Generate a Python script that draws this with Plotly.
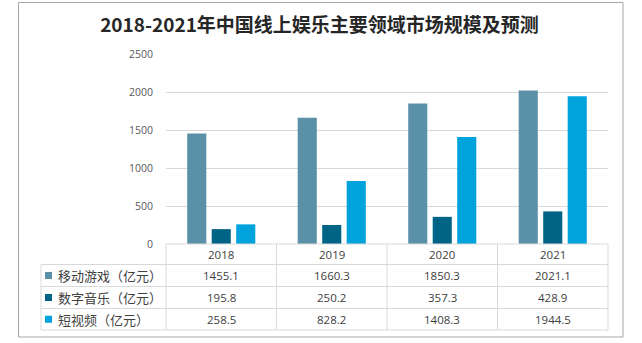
import plotly.graph_objects as go

title = "2018-2021年中国线上娱乐主要领域市场规模及预测"
categories = ["2018", "2019", "2020", "2021"]
series_names = ["移动游戏（亿元）", "数字音乐（亿元）", "短视频（亿元）"]
mobile_games = [1455.1, 1660.3, 1850.3, 2021.1]
digital_music = [195.8, 250.2, 357.3, 428.9]
short_video = [258.5, 828.2, 1408.3, 1944.5]
y_ticks = [0, 500, 1000, 1500, 2000, 2500]

series_values = [mobile_games, digital_music, short_video]
colors = ["#5b91a8", "#006487", "#00a3dc"]

W, H = 642, 343
L, R, T, B = 166, 608, 54, 244
PW, PH = R - L, B - T


def xp(px):
    return (px - L) / PW


def yp(py):
    return (B - py) / PH


fig = go.Figure()
for name, vals, col in zip(series_names, series_values, colors):
    fig.add_trace(go.Bar(x=categories, y=vals, name=name,
                         marker=dict(color=col, line=dict(width=0))))

base_font = "Open Sans, Noto Sans CJK SC, sans-serif"
fig.update_layout(
    width=W, height=H,
    margin=dict(l=L, r=W - R, t=T, b=H - B, pad=0),
    paper_bgcolor="white", plot_bgcolor="white",
    barmode="group", bargap=0.335, bargroupgap=0.22,
    showlegend=False,
    title=dict(text="<b>" + title + "</b>", x=319.5 / W, xref="container", xanchor="center",
               y=1 - 25 / H, yref="container", yanchor="middle",
               font=dict(family="Noto Sans CJK SC, sans-serif", size=19, color="#262626")),
    font=dict(family=base_font, color="#404040"),
)
fig.update_xaxes(showticklabels=False, showgrid=False, showline=False, zeroline=False, ticks="")
fig.update_yaxes(range=[0, 2500], tickvals=y_ticks, showgrid=True, gridcolor="#d9d9d9", gridwidth=1,
                 zeroline=False, showline=False, ticks="", ticklabelstandoff=12,
                 tickfont=dict(family=base_font, size=10.5, color="#595959"))

shapes = []
line_col = "#d9d9d9"
row_edges = [244, 264.5, 286.5, 308.5, 330]
n = len(categories)
col_edges_px = [L + PW * k / n for k in range(n + 1)]
label_left = 41

# horizontal table lines
for i, ry in enumerate(row_edges):
    x0 = L if i == 0 else label_left
    shapes.append(dict(type="line", xref="paper", yref="paper", x0=xp(x0), x1=xp(R),
                       y0=yp(ry), y1=yp(ry), line=dict(color=line_col, width=1)))
# vertical table lines
shapes.append(dict(type="line", xref="paper", yref="paper", x0=xp(label_left), x1=xp(label_left),
                   y0=yp(row_edges[1]), y1=yp(row_edges[-1]), line=dict(color=line_col, width=1)))
for cx in col_edges_px:
    shapes.append(dict(type="line", xref="paper", yref="paper", x0=xp(cx), x1=xp(cx),
                       y0=yp(row_edges[0]), y1=yp(row_edges[-1]), line=dict(color=line_col, width=1)))

annotations = []
val_font = dict(family=base_font, size=11.5, color="#404040")
# header row
for k, cat in enumerate(categories):
    cx = (col_edges_px[k] + col_edges_px[k + 1]) / 2
    cy = (row_edges[0] + row_edges[1]) / 2
    annotations.append(dict(text=cat, xref="paper", yref="paper", x=xp(cx), y=yp(cy),
                            showarrow=False, xanchor="center", yanchor="middle", font=val_font))
# data rows
for r, (name, vals, col) in enumerate(zip(series_names, series_values, colors)):
    cy = (row_edges[r + 1] + row_edges[r + 2]) / 2
    shapes.append(dict(type="rect", xref="paper", yref="paper", x0=xp(45), x1=xp(52),
                       y0=yp(cy - 3.5), y1=yp(cy + 3.5), fillcolor=col, line=dict(width=0)))
    annotations.append(dict(text=name, xref="paper", yref="paper", x=xp(56), y=yp(cy),
                            showarrow=False, xanchor="left", yanchor="middle",
                            font=dict(family="Noto Sans CJK SC, sans-serif", size=13, color="#404040")))
    for k, v in enumerate(vals):
        cx = (col_edges_px[k] + col_edges_px[k + 1]) / 2
        annotations.append(dict(text=f"{v:.1f}", xref="paper", yref="paper", x=xp(cx), y=yp(cy),
                                showarrow=False, xanchor="center", yanchor="middle", font=val_font))

# outer border
shapes.append(dict(type="rect", xref="paper", yref="paper", x0=xp(18.5), x1=xp(623),
                   y0=yp(2.5), y1=yp(337), line=dict(color="#a6a6a6", width=1), fillcolor="rgba(0,0,0,0)"))

fig.update_layout(shapes=shapes, annotations=annotations)
fig.write_html("out.html")
